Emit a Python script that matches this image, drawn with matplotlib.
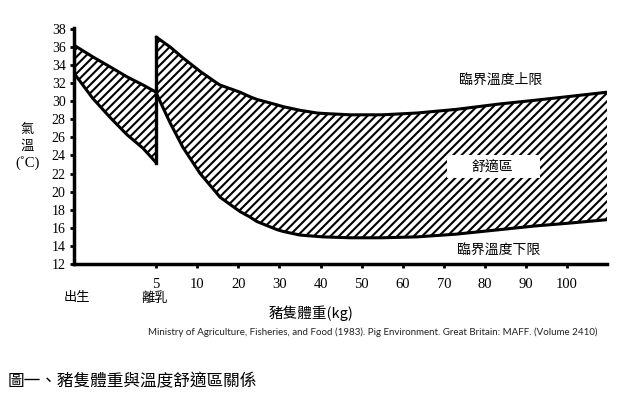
import matplotlib
matplotlib.use("Agg")
import matplotlib.pyplot as plt
from matplotlib.patches import Rectangle

# position sur l'axe x : 0 = naissance, 2 = 5 kg, 3 = 10 kg, ... 12 = 100 kg
tick_pos = [2, 3, 4, 5, 6, 7, 8, 9, 10, 11, 12]
tick_labels = ["5", "10", "20", "30", "40", "50", "60", "70", "80", "90", "100"]
y_ticks = list(range(12, 39, 2))

# avant le sevrage
x_avant = [0.0, 0.46, 0.88, 1.29, 1.68, 2.0]
haut_avant = [36.2, 34.9, 33.8, 32.7, 31.8, 31.0]
bas_avant = [33.1, 30.3, 28.2, 26.3, 24.8, 23.2]

# apres le sevrage
x_apres = [2.0, 2.34, 2.65, 3.07, 3.48, 3.55, 4.04, 4.28, 4.45, 4.94, 5.09, 5.5, 5.91, 6.06, 6.72,
           7.5, 8.35, 9.3, 10.36, 11.2, 12.0, 12.97]
haut_apres = [37.1, 36.0, 34.8, 33.3, 32.0, 31.8, 31.0, 30.5, 30.2, 29.6, 29.4, 29.0, 28.7, 28.65, 28.5,
              28.5, 28.7, 29.1, 29.7, 30.1, 30.5, 31.0]
bas_apres = [30.9, 27.6, 24.9, 22.0, 19.8, 19.4, 17.8, 17.2, 16.7, 15.8, 15.6, 15.2, 15.05, 15.0, 14.9,
             14.9, 15.0, 15.3, 15.8, 16.2, 16.5, 16.9]

plt.rcParams['hatch.linewidth'] = 1.5
plt.rcParams['hatch.color'] = 'black'
cjk = ['Noto Sans CJK TC', 'DejaVu Sans']
serif = 'Liberation Serif'

fig = plt.figure(figsize=(6.22, 3.96), dpi=100)
ax = fig.add_axes([74 / 622, 1 - 264 / 396, (607 - 74) / 622, (264 - 28) / 396])

ax.fill_between(x_avant, bas_avant, haut_avant, facecolor='white', edgecolor='black',
                hatch='////', linewidth=0)
ax.fill_between(x_apres, bas_apres, haut_apres, facecolor='white', edgecolor='black',
                hatch='////', linewidth=0)
for xs, ys in [(x_avant, haut_avant), (x_avant, bas_avant), (x_apres, haut_apres), (x_apres, bas_apres)]:
    ax.plot(xs, ys, color='black', lw=2.2, solid_capstyle='round', solid_joinstyle='round')
# ligne verticale au sevrage
ax.plot([2, 2], [bas_avant[-1], haut_apres[0]], color='black', lw=2.4)

ax.set_xlim(0, 12.97)
ax.set_ylim(12, 38.1)
ax.set_xticks(tick_pos)
ax.set_xticklabels(tick_labels, fontfamily=serif, fontsize=10.5)
ax.set_yticks(y_ticks)
ax.set_yticklabels([str(v) for v in y_ticks], fontfamily=serif, fontsize=10)
ax.tick_params(axis='both', length=3, width=2, direction='out')
ax.tick_params(axis='x', pad=7)
ax.tick_params(axis='y', pad=3)
for s in ['top', 'right']:
    ax.spines[s].set_visible(False)
for s in ['left', 'bottom']:
    ax.spines[s].set_linewidth(2.5)

# cadre blanc sous le mot 舒適區
ax.add_patch(Rectangle((9.07, 21.5), 2.27, 2.56, facecolor='white', edgecolor='none', zorder=3))
ax.text(10.19, 22.75, "舒適區", family=cjk, fontsize=10, ha='center', va='center', zorder=4)
ax.text(10.37, 32.4, "臨界溫度上限", family=cjk, fontsize=10, ha='center', va='center')
ax.text(10.34, 13.55, "臨界溫度下限", family=cjk, fontsize=10, ha='center', va='center')

def fx(px):
    return px / 622

def fy(py):
    return 1 - py / 396

fig.text(fx(27), fy(130), "氣", family=cjk, fontsize=9.5, ha='center', va='center')
fig.text(fx(27), fy(146), "溫", family=cjk, fontsize=9.5, ha='center', va='center')
fig.text(fx(28), fy(163), "(˚C)", family=serif, fontsize=10.5, ha='center', va='center')

fig.text(fx(77), fy(298), "出生", family=cjk, fontsize=9.5, ha='center', va='center')
fig.text(fx(155), fy(298), "離乳", family=cjk, fontsize=9.5, ha='center', va='center')
fig.text(fx(311), fy(313), "豬隻體重(kg)", family=cjk, fontsize=10.5, ha='center', va='center')

fig.text(fx(598), fy(332), "Ministry of Agriculture, Fisheries, and Food (1983). Pig Environment. "
         "Great Britain: MAFF. (Volume 2410)", family='Lato', fontsize=7, ha='right', va='center',
         color='#222222')

fig.text(fx(8), fy(382), "圖一、豬隻體重與溫度舒適區關係", family=cjk, fontsize=12, ha='left',
         va='center')

fig.savefig("out.png", dpi=100)
